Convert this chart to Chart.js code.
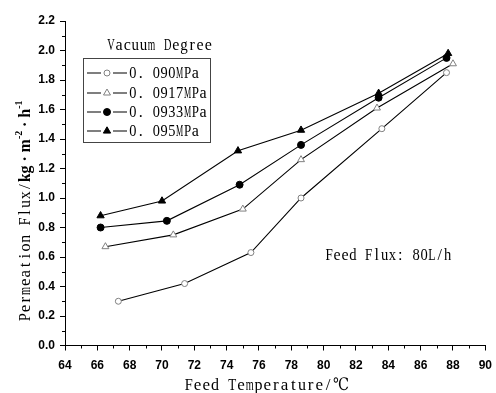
<!DOCTYPE html>
<html>
<head>
<meta charset="utf-8">
<script src="https://cdn.jsdelivr.net/npm/chart.js@4"></script>
<style>
  html, body { margin: 0; padding: 0; background: #fff; overflow: hidden; }
  #wrap { width: 496px; height: 393px; overflow: hidden; }
</style>
</head>
<body>
<div id="wrap"><canvas id="chart" width="500" height="393"></canvas></div>
<script>
// feed temperature (°C) and permeation flux for each vacuum degree
const labels = ['0.090MPa', '0.0917MPa', '0.0933MPa', '0.095MPa'];
const temp090 = [67.3, 71.4, 75.5, 78.6, 83.6, 87.6];
const flux090 = [0.30, 0.42, 0.63, 1.00, 1.47, 1.85];
const temp0917 = [66.5, 70.7, 75.0, 78.6, 83.3, 88.0];
const flux0917 = [0.67, 0.75, 0.925, 1.26, 1.61, 1.91];
const temp0933 = [66.2, 70.3, 74.8, 78.6, 83.4, 87.6];
const flux0933 = [0.80, 0.845, 1.09, 1.36, 1.68, 1.95];
const temp095 = [66.2, 70.0, 74.7, 78.6, 83.4, 87.7];
const flux095 = [0.88, 0.98, 1.32, 1.46, 1.71, 1.98];

const SERIF = '"Liberation Serif", "DejaVu Serif", serif';

const pts = (xs, ys) => xs.map((x, i) => ({ x: x, y: ys[i] }));

const styles = [
  { pointStyle: 'circle', radius: 3, fill: '#fff', stroke: '#808080' },
  { pointStyle: 'triangle', radius: 4, fill: '#fff', stroke: '#808080' },
  { pointStyle: 'circle', radius: 3.5, fill: '#000', stroke: '#000' },
  { pointStyle: 'triangle', radius: 4.2, fill: '#000', stroke: '#000' }
];
const series = [pts(temp090, flux090), pts(temp0917, flux0917), pts(temp0933, flux0933), pts(temp095, flux095)];

const datasets = series.map((d, i) => ({
  label: labels[i],
  data: d,
  showLine: true,
  borderColor: '#000',
  borderWidth: 1.1,
  pointStyle: styles[i].pointStyle,
  pointRadius: styles[i].radius,
  pointBackgroundColor: styles[i].fill,
  pointBorderColor: styles[i].stroke,
  pointBorderWidth: 1
}));

// fixed pitch text, like the SimSun look of the original
const wide = ch => ch === '.' || ch === '：' || ch === '℃';
function pitchWidth(text, pitch) {
  let n = 0;
  for (const ch of text) n += wide(ch) ? 2 : 1;
  return n * pitch;
}
function pitchText(ctx, text, x, y, pitch) {
  ctx.textAlign = 'center';
  let cx = x;
  for (const ch of text) {
    const w = wide(ch) ? 2 * pitch : pitch;
    const off = (ch === '.' || ch === '：') ? pitch * 0.5 : w / 2;
    const gw = ctx.measureText(ch).width;
    const room = w * 0.92;
    if (gw > room) {
      // squeeze wide glyphs (M, m, T...) into their cell
      ctx.save();
      ctx.translate(cx + off, y);
      ctx.scale(room / gw, 1);
      ctx.fillText(ch, 0, 0);
      ctx.restore();
    } else {
      ctx.fillText(ch, cx + off, y);
    }
    cx += w;
  }
  return cx - x;
}

function drawMarker(ctx, i, px, py) {
  const s = styles[i];
  ctx.fillStyle = s.fill;
  ctx.strokeStyle = s.stroke;
  ctx.lineWidth = 1;
  ctx.beginPath();
  if (s.pointStyle === 'circle') {
    ctx.arc(px, py, s.radius, 0, Math.PI * 2);
  } else {
    const r = s.radius;
    ctx.moveTo(px, py - r);
    ctx.lineTo(px + r * 0.87, py + r * 0.5);
    ctx.lineTo(px - r * 0.87, py + r * 0.5);
    ctx.closePath();
  }
  ctx.fill();
  ctx.stroke();
}

// minor ticks, legend box, axis titles and annotation
const extras = {
  id: 'extras',
  afterDraw(chart) {
    const ctx = chart.ctx;
    const x = chart.scales.x, y = chart.scales.y;
    ctx.save();
    ctx.strokeStyle = '#000';
    ctx.lineWidth = 1;
    ctx.beginPath();
    for (let v = 65; v < 90; v += 2) {
      const px = Math.round(x.getPixelForValue(v)) + 0.5;
      ctx.moveTo(px, y.bottom);
      ctx.lineTo(px, y.bottom + 3);
    }
    for (let k = 1; k < 22; k += 2) {
      const py = Math.round(y.getPixelForValue(k / 10)) + 0.5;
      ctx.moveTo(x.left, py);
      ctx.lineTo(x.left - 3, py);
    }
    ctx.stroke();

    // legend
    ctx.fillStyle = '#000';
    ctx.textBaseline = 'middle';
    ctx.font = '16px ' + SERIF;
    pitchText(ctx, 'Vacuum Degree', 107, 46, 8.1);
    ctx.strokeStyle = '#444';
    ctx.strokeRect(83.5, 58.5, 127, 84);
    const rows = [73, 93, 112, 131];
    rows.forEach((ry, i) => {
      ctx.strokeStyle = '#000';
      ctx.lineWidth = 1.2;
      ctx.beginPath();
      ctx.moveTo(87, ry); ctx.lineTo(101, ry);
      ctx.moveTo(113, ry); ctx.lineTo(127, ry);
      ctx.stroke();
      drawMarker(ctx, i, 107, ry);
      ctx.fillStyle = '#000';
      ctx.font = '16px ' + SERIF;
      pitchText(ctx, labels[i], 129, ry + 1, 7.8);
    });

    // annotation
    ctx.font = '16px ' + SERIF;
    pitchText(ctx, 'Feed Flux：80L/h', x.getPixelForValue(80.1), y.getPixelForValue(0.61), 7.9);

    // x axis title
    ctx.font = '17px ' + SERIF;
    const xt = 'Feed Temperature/℃';
    const xw = pitchWidth(xt, 8.7);
    pitchText(ctx, xt, (x.left + x.right) / 2 - xw / 2 - 8, 386, 8.7);

    // y axis title with superscripts
    ctx.translate(26, 211);
    ctx.rotate(-Math.PI / 2);
    const head = 'Permeation Flux/';
    const bold = 'bold 16px ' + SERIF;
    const sup = 'bold 10px ' + SERIF;
    const parts = [
      { t: 'kg', f: bold, dy: 0 },
      { t: '·', f: bold, dy: 0, w: 13 },
      { t: 'm', f: bold, dy: 0 },
      { t: '-2', f: sup, dy: -7 },
      { t: '·', f: bold, dy: 0, w: 13 },
      { t: 'h', f: bold, dy: 0 },
      { t: '-1', f: sup, dy: -7 }
    ];
    let total = pitchWidth(head, 8.7);
    parts.forEach(p => { ctx.font = p.f; p.adv = p.w || ctx.measureText(p.t).width; total += p.adv; });
    let cx = -total / 2;
    ctx.font = '17px ' + SERIF;
    cx += pitchText(ctx, head, cx, 0, 8.7);
    parts.forEach(p => {
      ctx.font = p.f;
      ctx.textAlign = 'center';
      ctx.fillText(p.t, cx + p.adv / 2, p.dy);
      cx += p.adv;
    });
    ctx.restore();
  }
};

new Chart(document.getElementById('chart'), {
  type: 'scatter',
  data: { datasets: datasets },
  plugins: [extras],
  options: {
    responsive: false,
    animation: false,
    devicePixelRatio: 1,
    layout: { padding: { top: 21, left: 0, right: 0, bottom: 0 } },
    plugins: {
      legend: { display: false },
      tooltip: { enabled: false }
    },
    scales: {
      x: {
        type: 'linear',
        min: 64,
        max: 90,
        afterFit(scale) { scale.height = 47.5; },
        grid: { drawOnChartArea: false, drawTicks: true, tickLength: 5, color: '#000' },
        border: { color: '#000', width: 1 },
        ticks: {
          stepSize: 2,
          maxRotation: 0,
          padding: 8,
          color: '#000',
          font: { family: '"Liberation Sans", Arial, sans-serif', size: 12, weight: 'bold' }
        }
      },
      y: {
        min: 0,
        max: 2.2,
        afterFit(scale) { scale.width = 65; },
        grid: { drawOnChartArea: false, drawTicks: true, tickLength: 5, color: '#000' },
        border: { color: '#000', width: 1 },
        ticks: {
          stepSize: 0.2,
          padding: 5,
          color: '#000',
          callback: v => v.toFixed(1),
          font: { family: '"Liberation Sans", Arial, sans-serif', size: 12, weight: 'bold' }
        }
      }
    }
  }
});
</script>
</body>
</html>
